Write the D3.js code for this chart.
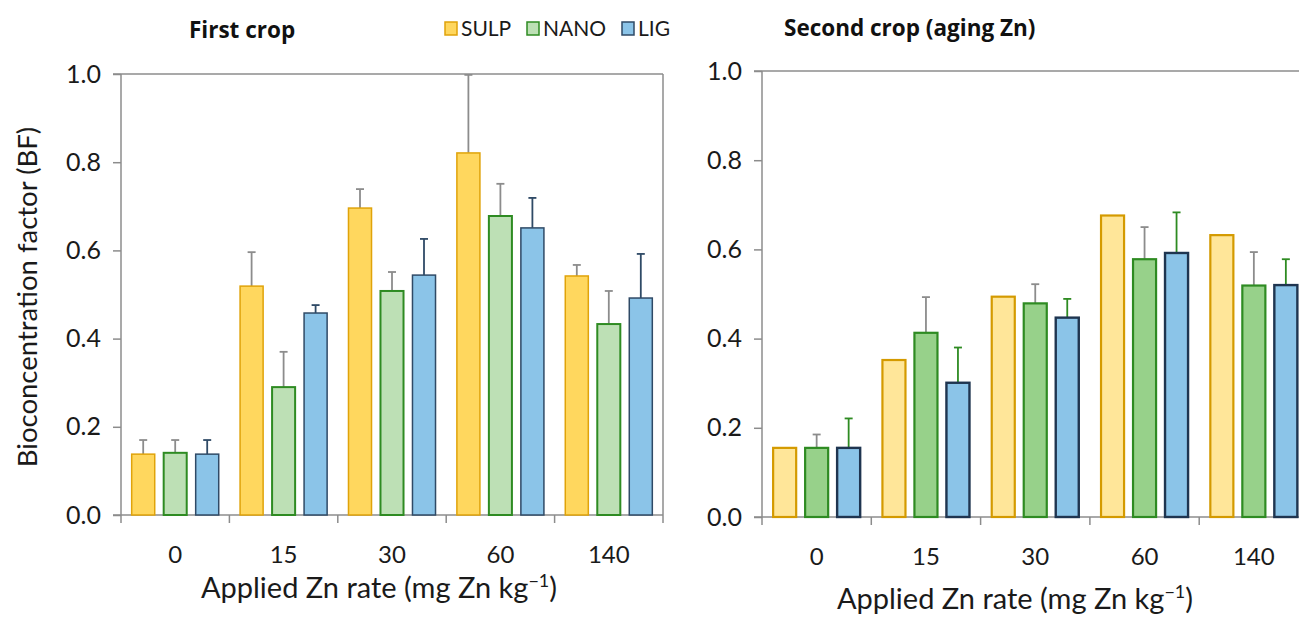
<!DOCTYPE html>
<html>
<head>
<meta charset="utf-8">
<script src="https://cdn.jsdelivr.net/npm/d3@7"></script>
<style>
  body { margin: 0; background: #fff; }
  svg { display: block; font-family: Lato, "Open Sans", sans-serif; }
</style>
</head>
<body>
<svg id="chart" width="1299" height="617"></svg>
<script>
// categories and series
var rates = ['0', '15', '30', '60', '140'];
var series = ['SULP', 'NANO', 'LIG'];
var yTicks = [0, 0.2, 0.4, 0.6, 0.8, 1.0];

// first crop: means and upper error lengths
var firstSULP = [0.138, 0.519, 0.696, 0.821, 0.542];
var firstNANO = [0.141, 0.290, 0.508, 0.678, 0.433];
var firstLIG  = [0.138, 0.458, 0.544, 0.651, 0.492];
var firstSULPErr = [0.032, 0.077, 0.043, 0.177, 0.025];
var firstNANOErr = [0.029, 0.080, 0.043, 0.073, 0.075];
var firstLIGErr  = [0.032, 0.018, 0.082, 0.068, 0.100];

// second crop (aging Zn)
var secondSULP = [0.155, 0.352, 0.494, 0.676, 0.632];
var secondNANO = [0.155, 0.413, 0.479, 0.578, 0.519];
var secondLIG  = [0.155, 0.301, 0.447, 0.592, 0.520];
var secondSULPErr = [0, 0, 0, 0, 0];
var secondNANOErr = [0.030, 0.080, 0.043, 0.072, 0.075];
var secondLIGErr  = [0.066, 0.079, 0.042, 0.091, 0.058];

var svg = d3.select('#chart');
var axisGrey = '#8c8c8c';

var legendColors = {
  SULP: { fill: '#ffd75e', stroke: '#e0a30a' },
  NANO: { fill: '#bde0b5', stroke: '#2e8b22' },
  LIG:  { fill: '#8bc4e8', stroke: '#2f4a66' }
};

function drawPanel(opt) {
  var g = svg.append('g');
  var x = d3.scaleBand().domain(rates).range([opt.left, opt.right]);
  var y = d3.scaleLinear().domain([0, 1]).range([opt.bottom, opt.top]);
  var inner = d3.scaleBand().domain(series).range([-48, 48])
    .paddingInner(0.28).paddingOuter(0.14);

  // frame: top and right lines
  g.append('line').attr('x1', opt.left - 8).attr('x2', opt.frameRight)
    .attr('y1', y(1)).attr('y2', y(1))
    .attr('stroke', axisGrey).attr('stroke-width', 1.5);
  if (opt.drawRight) {
    g.append('line').attr('x1', opt.frameRight).attr('x2', opt.frameRight)
      .attr('y1', y(1)).attr('y2', opt.bottom + 8)
      .attr('stroke', axisGrey).attr('stroke-width', 1.5);
  }

  // y axis
  var yAxis = d3.axisLeft(y).tickValues(yTicks).tickSize(8).tickPadding(12)
    .tickFormat(d3.format('.1f'));
  var ya = g.append('g').attr('transform', 'translate(' + opt.left + ',0)').call(yAxis);
  ya.select('.domain').remove();
  ya.selectAll('.tick line').attr('stroke', axisGrey).attr('stroke-width', 1.5);
  ya.selectAll('.tick text').attr('font-size', 25).attr('fill', '#1a1a1a')
    .attr('font-family', 'Lato, sans-serif');
  g.append('line').attr('x1', opt.left).attr('x2', opt.left)
    .attr('y1', y(1)).attr('y2', opt.bottom + 8)
    .attr('stroke', axisGrey).attr('stroke-width', 1.5);

  // x axis baseline and ticks between groups
  g.append('line').attr('x1', opt.left - 8).attr('x2', Math.min(opt.right, 1299))
    .attr('y1', opt.bottom).attr('y2', opt.bottom)
    .attr('stroke', axisGrey).attr('stroke-width', 1.5);
  g.selectAll('.xt').data(rates.slice(1)).enter().append('line')
    .attr('x1', function(d){ return x(d); }).attr('x2', function(d){ return x(d); })
    .attr('y1', opt.bottom).attr('y2', opt.bottom + 8)
    .attr('stroke', axisGrey).attr('stroke-width', 1.5);
  g.selectAll('.xl').data(rates).enter().append('text')
    .attr('x', function(d){ return x(d) + x.bandwidth() / 2; })
    .attr('y', opt.bottom + 48)
    .attr('text-anchor', 'middle').attr('font-size', 24).attr('fill', '#1a1a1a')
    .text(function(d){ return d; });

  // bars
  var groups = g.selectAll('.grp').data(rates).enter().append('g')
    .attr('transform', function(d){ return 'translate(' + (x(d) + x.bandwidth() / 2) + ',0)'; });

  groups.each(function(rate, i) {
    var gg = d3.select(this);
    series.forEach(function(s) {
      var v = opt.values[s][i];
      var e = opt.errors[s][i];
      var bx = inner(s);
      var st = opt.styles[s];
      if (e > 0) {
        var cx = bx + inner.bandwidth() / 2;
        gg.append('line').attr('x1', cx).attr('x2', cx)
          .attr('y1', y(v)).attr('y2', y(v + e))
          .attr('stroke', st.err).attr('stroke-width', 1.8);
        gg.append('line').attr('x1', cx - 4).attr('x2', cx + 4)
          .attr('y1', y(v + e)).attr('y2', y(v + e))
          .attr('stroke', st.err).attr('stroke-width', 1.8);
      }
      gg.append('rect')
        .attr('x', bx).attr('width', inner.bandwidth())
        .attr('y', y(v)).attr('height', y(0) - y(v))
        .attr('fill', st.fill).attr('stroke', st.stroke).attr('stroke-width', st.sw);
    });
  });

  // titles
  g.append('text').attr('x', opt.titleX).attr('y', opt.titleY)
    .attr('font-size', 22.5).attr('font-weight', 'bold').attr('fill', '#111')
    .attr('font-family', '"Open Sans", sans-serif')
    .text(opt.title);

  var xt = g.append('text').attr('x', opt.xTitleX)
    .attr('y', opt.xTitleY).attr('text-anchor', 'middle')
    .attr('font-size', 29).attr('fill', '#1a1a1a');
  xt.append('tspan').text('Applied Zn rate (mg Zn kg');
  xt.append('tspan').attr('dy', -11).attr('font-size', 18).text('\u22121');
  xt.append('tspan').attr('dy', 11).text(')');

  return g;
}

drawPanel({
  left: 121, right: 663, frameRight: 663, drawRight: true,
  top: 74, bottom: 515,
  title: 'First crop', titleX: 189, titleY: 38, xTitleX: 379, xTitleY: 598,
  values: { SULP: firstSULP, NANO: firstNANO, LIG: firstLIG },
  errors: { SULP: firstSULPErr, NANO: firstNANOErr, LIG: firstLIGErr },
  styles: {
    SULP: { fill: '#ffd75e', stroke: '#e0a30a', sw: 1.5, err: '#8c8c8c' },
    NANO: { fill: '#bde0b5', stroke: '#2e8b22', sw: 2, err: '#8c8c8c' },
    LIG:  { fill: '#8bc4e8', stroke: '#2f4a66', sw: 1.5, err: '#2f4a66' }
  }
});

drawPanel({
  left: 762, right: 762 + 5 * 109.3, frameRight: 1299, drawRight: false,
  top: 71, bottom: 517,
  title: 'Second crop (aging Zn)', titleX: 784, titleY: 36, xTitleX: 1015, xTitleY: 609,
  values: { SULP: secondSULP, NANO: secondNANO, LIG: secondLIG },
  errors: { SULP: secondSULPErr, NANO: secondNANOErr, LIG: secondLIGErr },
  styles: {
    SULP: { fill: '#ffe699', stroke: '#d49a00', sw: 2.2, err: '#8c8c8c' },
    NANO: { fill: '#97d18a', stroke: '#2e8b22', sw: 2.2, err: '#8c8c8c' },
    LIG:  { fill: '#8bc4e8', stroke: '#1f3550', sw: 2.4, err: '#2e8b22' }
  }
});

// y axis label
svg.append('text')
  .attr('transform', 'translate(37,297) rotate(-90)')
  .attr('text-anchor', 'middle').attr('font-size', 27.5).attr('fill', '#1a1a1a')
  .text('Bioconcentration factor (BF)');

// legend
var legend = svg.append('g').attr('transform', 'translate(445,22)');
var legendX = [0, 82, 177];
series.forEach(function(s, i) {
  var item = legend.append('g').attr('transform', 'translate(' + legendX[i] + ',0)');
  item.append('rect').attr('x', 0).attr('y', 0).attr('width', 12).attr('height', 13)
    .attr('fill', legendColors[s].fill).attr('stroke', legendColors[s].stroke).attr('stroke-width', 1.5);
  item.append('text').attr('x', 16).attr('y', 14).attr('font-size', 21)
    .attr('fill', '#1a1a1a').text(s);
});
</script>
</body>
</html>
